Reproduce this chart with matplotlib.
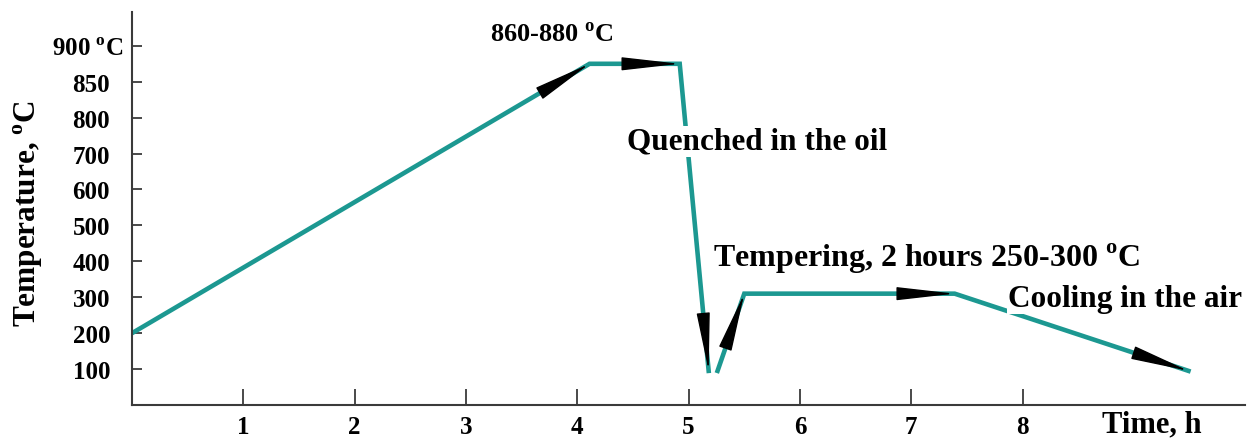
import numpy as np
import matplotlib
matplotlib.use('Agg')
import matplotlib.pyplot as plt
import matplotlib.transforms as mtransforms

plt.rcParams['font.family'] = ['Liberation Serif', 'DejaVu Serif']
plt.rcParams['font.weight'] = 'bold'
plt.rcParams['axes.labelweight'] = 'bold'

# heat treatment schedule: (time h, temperature C)
quench_time = [0.0, 4.11, 4.92, 5.18]
quench_temp = [200, 875, 875, 95]
temper_time = [5.26, 5.50, 7.39, 9.49]
temper_temp = [95, 310, 310, 95]

x_ticks = [1, 2, 3, 4, 5, 6, 7, 8]
y_ticks = [100, 200, 300, 400, 500, 600, 700, 800, 850, 900]
y_ticklabels = ['100', '200', '300', '400', '500', '600', '700', '800', '850',
                '900 $^\\mathregular{o}$C']

# the temperature axis is schematic: 100 C steps up to 800, then 50 C steps
TEMP_KNOTS = [0, 100, 200, 300, 400, 500, 600, 700, 800, 850, 900, 950]
POS_KNOTS = list(range(len(TEMP_KNOTS)))

def fwd(v):
    return np.interp(v, TEMP_KNOTS, POS_KNOTS)

def inv(v):
    return np.interp(v, POS_KNOTS, TEMP_KNOTS)

LINE_C = '#1c9891'
AX_C = '#3a3a3a'

fig = plt.figure(figsize=(12.55, 4.39), dpi=100)
ax = fig.add_axes([0.1052, 0.0752, 0.887, 0.895])
ax.set_yscale('function', functions=(fwd, inv))
ax.set_xlim(0, 10)
ax.set_ylim(0, 947)

ax.plot(quench_time, quench_temp, color=LINE_C, lw=3.3, solid_joinstyle='miter', zorder=2)
ax.plot(temper_time, temper_temp, color=LINE_C, lw=3.3, solid_joinstyle='miter', zorder=2)

for s in ['top', 'right']:
    ax.spines[s].set_visible(False)
for s in ['left', 'bottom']:
    ax.spines[s].set_color(AX_C)
    ax.spines[s].set_linewidth(1.5)

ax.set_xticks(x_ticks)
ax.set_xticklabels([str(v) for v in x_ticks])
ax.set_yticks(y_ticks)
ax.set_yticklabels(y_ticklabels)
ax.minorticks_off()
ax.tick_params(axis='x', direction='in', length=11.5, width=1.3, color=AX_C, pad=7, labelsize=18)
ax.tick_params(axis='y', direction='in', length=7, width=1.3, color=AX_C, pad=15.8, labelsize=18)
lbl900 = ax.get_yticklabels()[-1]
lbl900.set_transform(lbl900.get_transform() + mtransforms.ScaledTranslation(0.13, 0, fig.dpi_scale_trans))

ax.set_ylabel('Temperature, $^\\mathregular{o}$C', fontsize=22.5, fontweight='bold')
ax.yaxis.set_label_coords(-0.0934, 0.489)
ax.yaxis.label.set_va('center')
ax.set_xlabel('Time, h', fontsize=22, fontweight='bold')
ax.xaxis.set_label_coords(0.916, -0.068)
ax.xaxis.label.set_va('baseline')

# arrow heads at the end of every stage
fig.canvas.draw()
for tt, TT in [(quench_time, quench_temp), (temper_time, temper_temp)]:
    for i in range(1, len(tt)):
        p0 = ax.transData.transform((tt[i - 1], TT[i - 1]))
        p1 = ax.transData.transform((tt[i], TT[i]))
        d = p1 - p0
        u = d / np.hypot(*d)
        L = 56
        ax.annotate('', xy=(tt[i], TT[i]), xytext=(-L * u[0], -L * u[1]),
                    textcoords='offset pixels',
                    arrowprops=dict(arrowstyle='-|>,head_length=3.7,head_width=0.42',
                                    mutation_scale=10, color='black', lw=1,
                                    shrinkA=0, shrinkB=0),
                    zorder=3)

box = dict(facecolor='white', edgecolor='none', pad=1)
ax.text(3.22, 906, '860-880 $^\\mathregular{o}$C', fontsize=19, ha='left', va='baseline')
ax.text(4.45, 713, 'Quenched in the oil', fontsize=22.5, ha='left', va='baseline',
        bbox=box, zorder=4)
ax.text(5.22, 387, 'Tempering, 2 hours 250-300 $^\\mathregular{o}$C', fontsize=23,
        ha='left', va='baseline', bbox=box, zorder=4)
ax.text(7.87, 276, 'Cooling in the air', fontsize=22.5, ha='left', va='baseline',
        bbox=box, zorder=4)

fig.savefig('out.png', dpi=100)
